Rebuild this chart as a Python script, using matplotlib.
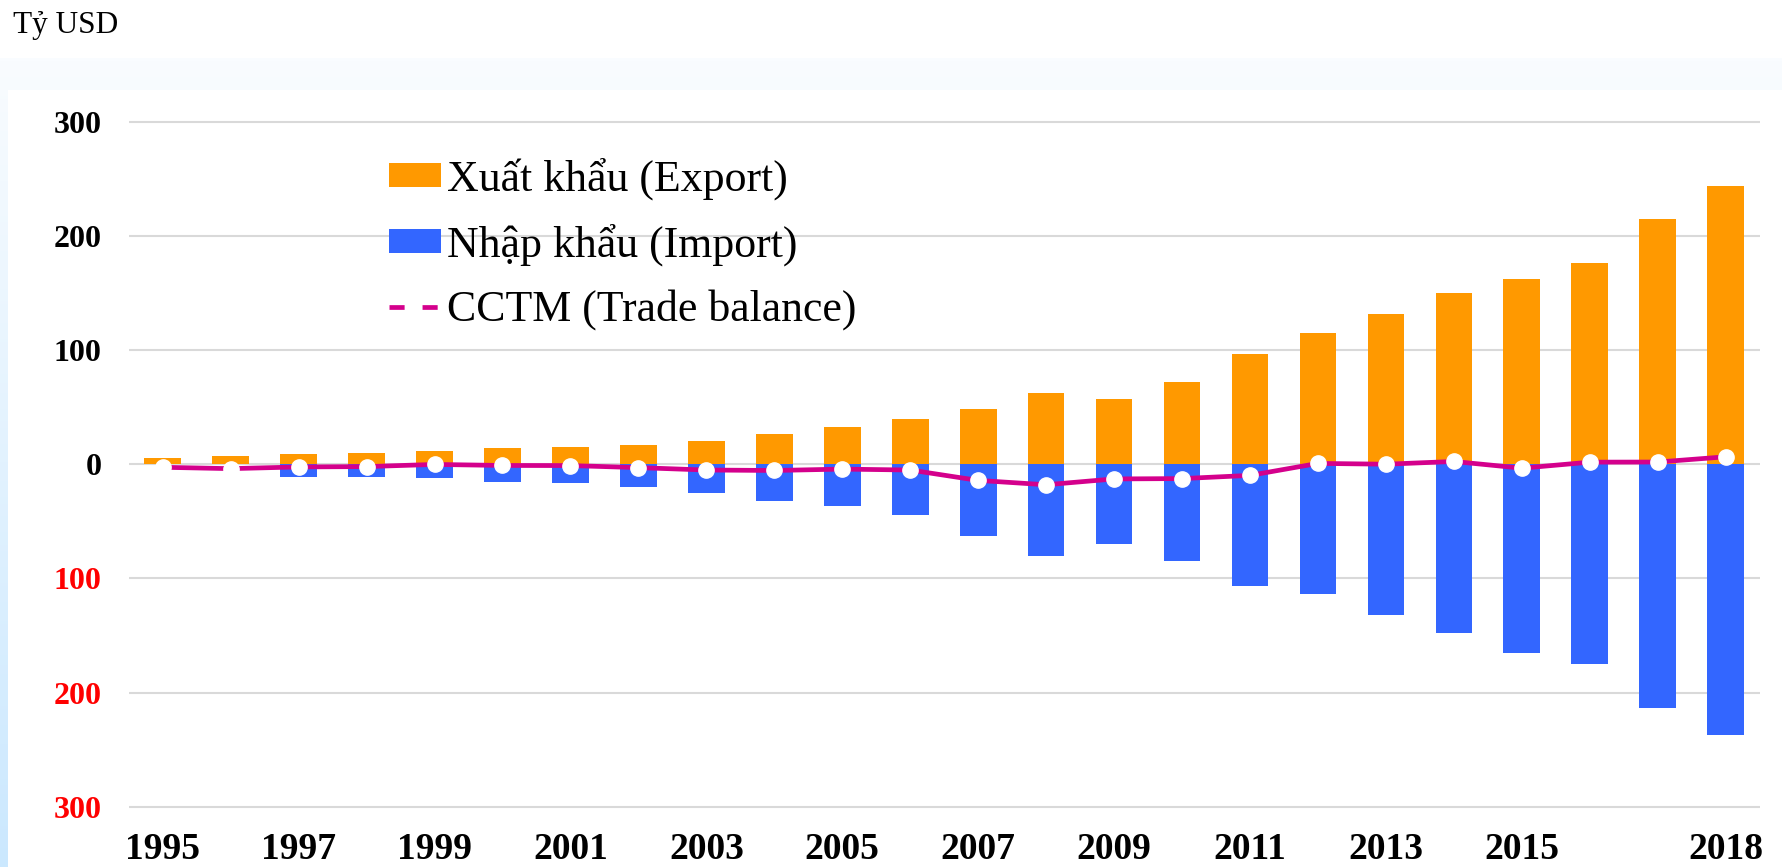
import numpy as np
import matplotlib
matplotlib.use("Agg")
import matplotlib.pyplot as plt
from matplotlib.lines import Line2D
from matplotlib.patches import Patch, Rectangle
from matplotlib.colors import LinearSegmentedColormap

plt.rcParams['font.family'] = ['Liberation Serif', 'DejaVu Serif']

years = list(range(1995, 2019))
export = [5.4, 7.3, 9.2, 9.4, 11.5, 14.5, 15.0, 16.7, 20.1, 26.5, 32.4, 39.8,
          48.6, 62.7, 57.1, 72.2, 96.9, 114.5, 132.0, 150.2, 162.0, 176.6, 215.1, 243.7]
imports = [np.nan, np.nan, 11.6, 11.5, 11.7, 15.6, 16.2, 19.7, 25.3, 32.0, 36.8, 44.9,
           62.8, 80.7, 69.9, 84.8, 106.7, 113.8, 132.0, 148.0, 165.6, 174.8, 213.2, 237.2]
balance = [-2.7, -3.9, -2.4, -2.1, -0.2, -1.1, -1.2, -3.0, -5.1, -5.5, -4.3, -5.1,
           -14.2, -18.0, -12.9, -12.6, -9.8, 0.7, 0.0, 2.4, -3.5, 1.8, 1.9, 6.5]
year_labels = ['1995', '1997', '1999', '2001', '2003', '2005', '2007', '2009',
               '2011', '2013', '2015', '2018']
y_ticks = [-300, -200, -100, 0, 100, 200, 300]
y_labels = ['300', '200', '100', '0', '100', '200', '300']

c_exp = '#FF9900'
c_imp = '#3366FF'
c_bal = '#D4008C'

W, H = 1782, 867
fig = plt.figure(figsize=(W / 100, H / 100), dpi=100)

# pale blue backdrop and white panel
bg = fig.add_axes([0, 0, 1, 1 - 58 / H], zorder=-2)
grad = np.linspace(0, 1, 256).reshape(-1, 1)
bg.imshow(grad, aspect='auto', extent=[0, 1, 0, 1], origin='upper',
          cmap=LinearSegmentedColormap.from_list('bg', ['#F9FCFF', '#CBE8FE']))
bg.axis('off')
fig.patches.append(Rectangle((8 / W, 0), 1, 1 - 90 / H, transform=fig.transFigure,
                             facecolor='white', edgecolor='none', zorder=-1))

ax = fig.add_axes([128.7 / W, (H - 818.1) / H, (1759.7 - 128.7) / W, (818.1 - 110.3) / H])
x = np.arange(len(years))
ax.bar(x, export, width=0.54, color=c_exp, zorder=2)
ax.bar(x, -np.array(imports), width=0.54, color=c_imp, zorder=2)
ax.plot(x, balance, color=c_bal, lw=3.4, marker='o', ms=11, mfc='white', mec='white', zorder=3)

ax.set_xlim(-0.5, len(years) - 0.5)
ax.set_ylim(-310, 310)
ax.set_yticks(y_ticks)
ax.set_yticklabels(y_labels, fontsize=23, fontweight='bold')
for t, v in zip(ax.get_yticklabels(), y_ticks):
    if v < 0:
        t.set_color('#FF0000')
tick_pos = [years.index(int(s)) for s in year_labels]
ax.set_xticks(tick_pos)
ax.set_xticklabels(year_labels, fontsize=27, fontweight='bold')
ax.tick_params(axis='y', length=0, pad=19.4)
ax.tick_params(axis='x', length=0, pad=10.3)
ax.yaxis.grid(True, color='#D9D9D9', lw=1.5)
ax.set_axisbelow(True)
for s in ax.spines.values():
    s.set_visible(False)

handles = [Patch(facecolor=c_exp), Patch(facecolor=c_imp),
           Line2D([], [], color=c_bal, lw=3.4, dashes=(3.2, 3.8))]
labels = ['Xuất khẩu (Export)', 'Nhập khẩu (Import)', 'CCTM (Trade balance)']
ax.legend(handles, labels, loc='upper left', bbox_to_anchor=(389 / W, 1 - 158 / H),
          bbox_transform=fig.transFigure, frameon=False, fontsize=31.6,
          borderpad=0, borderaxespad=0, handlelength=1.18, handleheight=0.47,
          handletextpad=0.14, labelspacing=0.53)

fig.text(13 / W, 1 - 32.5 / H, 'Tỷ USD', fontsize=22.5, ha='left', va='baseline')

fig.savefig('out.png', dpi=100)
